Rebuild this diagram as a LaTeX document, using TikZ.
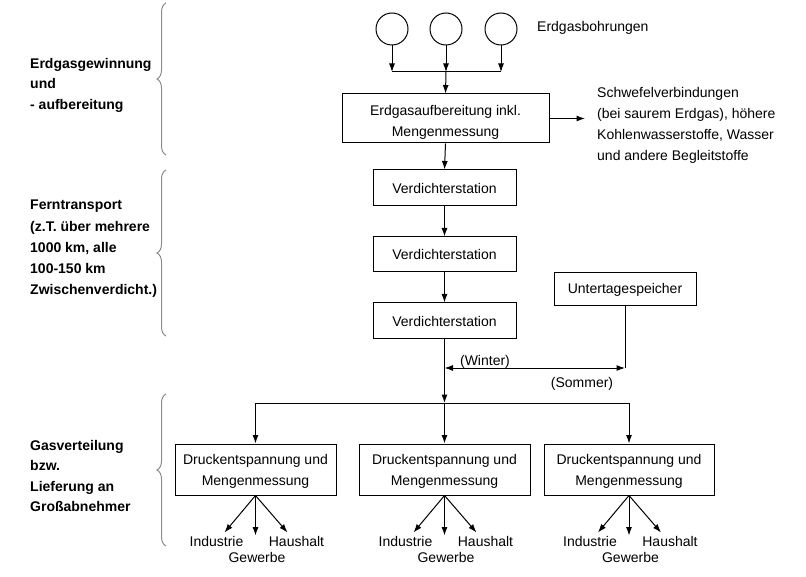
\documentclass[tikz,border=0pt]{standalone}
\usepackage{fontspec}
\setmainfont{Liberation Sans}
\usetikzlibrary{arrows.meta,decorations.pathreplacing}
\begin{document}
\begin{tikzpicture}[x=1pt,y=-1pt,
  every node/.style={font=\fontsize{14}{21}\selectfont, inner sep=0pt},
  box/.style={draw, line width=1pt, align=center},
  well/.style={draw, circle, line width=1pt, minimum size=32pt},
  arr/.style={line width=1pt, -{Latex[length=8.5pt,width=6pt]}},
  darr/.style={line width=1pt, {Latex[length=8.5pt,width=6pt]}-{Latex[length=8.5pt,width=6pt]}},
  ln/.style={line width=1pt},
  grp/.style={font=\bfseries\fontsize{14}{20.6}\selectfont, align=left, anchor=north west},
  brc/.style={draw=black!45, line width=1pt, decorate, decoration={brace, amplitude=9pt}},
  sublbl/.style={anchor=base},
]
\useasboundingbox (0,0) rectangle (806,577);

% wells
\node[well] (c1) at (392,29) {};
\node[well] (c2) at (446,29) {};
\node[well] (c3) at (501,29) {};
\node[anchor=base west] (wells) at (537,32) {Erdgasbohrungen};
\coordinate (j) at (446,72);

% processing
\node[box, minimum width=207pt, minimum height=49pt] (auf) at (445.5,118.5) {\rule{0pt}{18pt}Erdgasaufbereitung inkl.\\Mengenmessung};
\coordinate (side) at (585,118.5);
\node[anchor=north west, align=left] (schwefel) at (597,87) {Schwefelverbindungen\\(bei saurem Erdgas), h\"ohere\\Kohlenwasserstoffe, Wasser\\und andere Begleitstoffe};

% compressors
\node[box, minimum width=143pt, minimum height=36pt] (v1) at (444.5,188) {Verdichterstation};
\node[box, minimum width=143pt, minimum height=35pt] (v2) at (444.5,254.5) {Verdichterstation};
\node[box, minimum width=143pt, minimum height=36pt] (v3) at (444.5,321) {Verdichterstation};
\node[box, minimum width=142pt, minimum height=33pt] (u) at (625,289.5) {Untertagespeicher};

\coordinate (wl) at (444.5,368);
\coordinate (wr) at (625,368);
\node[anchor=base] (winter) at (485,365) {(Winter)};
\node[anchor=base] (sommer) at (582,388) {(Sommer)};
\coordinate (dist) at (444.5,403);

% distribution boxes
\node[box, minimum width=161pt, minimum height=51pt] (b1) at (255.5,469.5) {\rule{0pt}{13pt}Druckentspannung und\\Mengenmessung};
\node[box, minimum width=171pt, minimum height=51pt] (b2) at (444.5,469.5) {\rule{0pt}{13pt}Druckentspannung und\\Mengenmessung};
\node[box, minimum width=170pt, minimum height=51pt] (b3) at (629,469.5) {\rule{0pt}{13pt}Druckentspannung und\\Mengenmessung};

% left group labels
\node[grp] (g1) at (30,58) {Erdgasgewinnung\\und\\- aufbereitung};
\node[grp, font=\bfseries\fontsize{14}{21.2}\selectfont] (g2) at (30,200) {Ferntransport\\(z.T. \"uber mehrere\\1000 km, alle\\100-150 km\\Zwischenverdicht.)};
\node[grp, font=\bfseries\fontsize{14}{20.4}\selectfont] (g3) at (30,440) {Gasverteilung\\bzw.\\Lieferung an\\Gro\ss abnehmer};

% braces
\coordinate (br1a) at (166,155); \coordinate (br1b) at (166,3);
\coordinate (br2a) at (166,336); \coordinate (br2b) at (166,170);
\coordinate (br3a) at (166,546); \coordinate (br3b) at (166,394);
\draw[brc] (br1a) -- (br1b);
\draw[brc] (br2a) -- (br2b);
\draw[brc] (br3a) -- (br3b);

% connectors top
\draw[arr] (c1.south) -- (c1.south |- j);
\draw[arr] (c3.south) -- (c3.south |- j);
\draw[arr] (c2.south) -- (j);
\draw[ln] (c1.south |- j) -- (c3.south |- j);
\draw[arr] (j) -- (auf.north);
\draw[arr] (auf.east) -- (side);
\draw[arr] (auf.south) -- (v1.north);
\draw[arr] (v1.south) -- (v2.north);
\draw[arr] (v2.south) -- (v3.north);

% storage
\draw[ln] (v3.south) -- (wl);
\draw[ln] (u.south) -- (wr);
\draw[darr] (wl) -- (wr);
\draw[arr] (wl) -- (dist);
\draw[ln] (b1.north |- dist) -- (b3.north |- dist);
\draw[arr] (b1.north |- dist) -- (b1.north);
\draw[arr] (dist) -- (b2.north);
\draw[arr] (b3.north |- dist) -- (b3.north);

% consumers
\foreach \b in {b1,b2,b3} {
  \path (\b.south) ++(-31,37) coordinate (\b l) ++(31,3) coordinate (\b m) ++(32,-3) coordinate (\b r);
  \draw[arr] (\b.south) -- (\b l);
  \draw[arr] (\b.south) -- (\b m);
  \draw[arr] (\b.south) -- (\b r);
  \node[sublbl] (\b ind) at ([xshift=-39pt,yshift=-51pt]\b.south) {Industrie};
  \node[sublbl] (\b hh) at ([xshift=41pt,yshift=-51pt]\b.south) {Haushalt};
  \node[sublbl] (\b gw) at ([xshift=1.5pt,yshift=-67pt]\b.south) {Gewerbe};
}
\end{tikzpicture}
\end{document}
